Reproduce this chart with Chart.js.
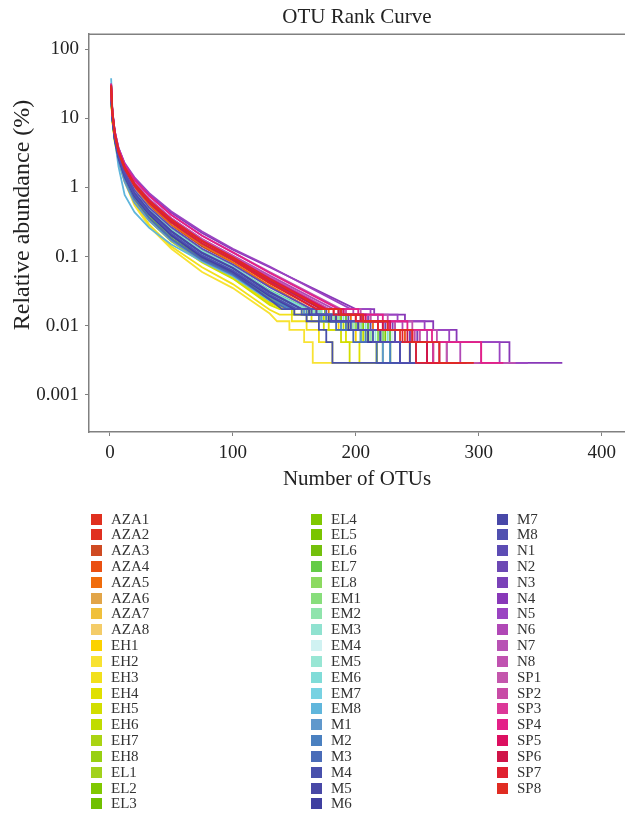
<!DOCTYPE html>
<html>
<head>
<meta charset="utf-8">
<script src="https://cdn.jsdelivr.net/npm/chart.js@4.4.1/dist/chart.umd.min.js"></script>
<style>
    body { margin: 0; background: #fff; font-family: "Liberation Serif", "DejaVu Serif", serif; }
    #wrap { position: relative; width: 625px; height: 500px; }
    #legend { position: absolute; left: 0; top: 0; width: 625px; height: 814px; pointer-events: none; }
    .item { position: absolute; font-size: 15px; color: #333; line-height: 15px; white-space: nowrap; }
    .item span { position: absolute; left: 0; top: 2px; width: 11px; height: 11px; }
    .item b { font-weight: normal; position: absolute; left: 20px; top: 0; }
</style>
</head>
<body>
<div id="wrap"><canvas id="otuChart"></canvas></div>
<div id="legend"></div>
<script>
// rangos donde se leyeron los valores (% de abundancia relativa)
const ranks = [1, 2, 4, 7, 12, 20, 32, 50, 75, 100, 130];
// niveles de la cola (6, 5, 4, 3, 2 y 1 lectura)
const tailLevels = [0.0174, 0.0145, 0.0116, 0.0087, 0.0058, 0.0029];

const yTicks = [0.001, 0.01, 0.1, 1, 10, 100];
const yTickLabels = ['0.001', '0.01', '0.1', '1', '10', '100'];
const xTicks = [0, 100, 200, 300, 400];

const sampleNames = [
    'AZA1', 'AZA2', 'AZA3', 'AZA4', 'AZA5', 'AZA6', 'AZA7', 'AZA8',
    'EH1', 'EH2', 'EH3', 'EH4', 'EH5', 'EH6', 'EH7', 'EH8',
    'EL1', 'EL2', 'EL3', 'EL4', 'EL5', 'EL6', 'EL7', 'EL8',
    'EM1', 'EM2', 'EM3', 'EM4', 'EM5', 'EM6', 'EM7', 'EM8',
    'M1', 'M2', 'M3', 'M4', 'M5', 'M6', 'M7', 'M8',
    'N1', 'N2', 'N3', 'N4', 'N5', 'N6', 'N7', 'N8',
    'SP1', 'SP2', 'SP3', 'SP4', 'SP5', 'SP6', 'SP7', 'SP8'
];

const sampleColors = [
    '#e0301f', '#e03020', '#cf4a22', '#ea5012', '#f06c0c', '#e2a548', '#f0c03c', '#f4cc68',
    '#fcd200', '#f8e232', '#f2e01c', '#e0e000', '#d2de00', '#c0dc00', '#aad412', '#98d012',
    '#a2d21c', '#80c800', '#70c000', '#80c800', '#7ac400', '#74c00c', '#64cc48', '#8cda60',
    '#88de7c', '#90e4ac', '#90e2d0', '#d0f2f2', '#98e6d4', '#80dcd8', '#78d2e2', '#60b6dc',
    '#6098cc', '#4a80c0', '#4a6cb8', '#4850ac', '#4848a6', '#4040a0', '#4848a8', '#5050b0',
    '#5c4cb4', '#6c48b4', '#7a42b8', '#8838b8', '#9a44c2', '#b048b6', '#b852b4', '#c052b0',
    '#c456ac', '#c84ca6', '#dc3898', '#e42088', '#dc0f60', '#d01448', '#e02030', '#e02c22'
];

const abundanceAZA = [
    [27, 12, 6.2, 3.5, 2.0, 1.15, 0.66, 0.35, 0.17, 0.098, 0.047],
    [29, 11.5, 5.8, 3.3, 1.85, 1.02, 0.6, 0.32, 0.15, 0.088, 0.041],
    [24, 10.5, 5.4, 3.0, 1.7, 0.95, 0.55, 0.28, 0.14, 0.08, 0.036],
    [31, 12.5, 6.1, 3.4, 2.0, 1.12, 0.62, 0.34, 0.17, 0.096, 0.046],
    [25, 11, 5.6, 3.1, 1.75, 0.98, 0.57, 0.29, 0.148, 0.083, 0.038],
    [23, 10, 5.1, 2.8, 1.58, 0.84, 0.45, 0.235, 0.11, 0.064, 0.028],
    [26, 11, 5.3, 2.9, 1.62, 0.9, 0.5, 0.26, 0.128, 0.074, 0.033],
    [22, 9.8, 5.0, 2.75, 1.5, 0.78, 0.43, 0.215, 0.105, 0.062, 0.027]
];
const abundanceEH = [
    [21, 9.6, 4.8, 2.6, 1.35, 0.66, 0.35, 0.17, 0.085, 0.049, 0.021],
    [20, 9.0, 4.5, 2.45, 1.2, 0.55, 0.27, 0.13, 0.06, 0.035, 0.015],
    [22, 9.2, 4.6, 2.4, 1.25, 0.6, 0.29, 0.14, 0.07, 0.04, 0.017],
    [23, 9.8, 4.9, 2.6, 1.4, 0.68, 0.37, 0.18, 0.09, 0.052, 0.022],
    [21, 9.4, 4.7, 2.55, 1.32, 0.63, 0.33, 0.165, 0.082, 0.048, 0.02],
    [24, 10.2, 5.0, 2.7, 1.45, 0.75, 0.4, 0.2, 0.098, 0.058, 0.025],
    [22, 9.9, 5.0, 2.72, 1.5, 0.76, 0.41, 0.205, 0.1, 0.06, 0.026],
    [25, 10.4, 5.2, 2.8, 1.52, 0.78, 0.42, 0.21, 0.104, 0.062, 0.027]
];
const abundanceEL = [
    [23, 10, 5.1, 2.8, 1.55, 0.8, 0.44, 0.225, 0.108, 0.065, 0.028],
    [24, 10.5, 5.3, 2.9, 1.6, 0.86, 0.47, 0.24, 0.118, 0.07, 0.031],
    [26, 10.2, 5.0, 2.7, 1.48, 0.77, 0.42, 0.215, 0.104, 0.063, 0.028],
    [24, 10.6, 5.3, 2.95, 1.62, 0.86, 0.48, 0.245, 0.12, 0.072, 0.032],
    [22, 9.8, 5.0, 2.75, 1.5, 0.79, 0.43, 0.22, 0.106, 0.064, 0.028],
    [23, 9.9, 4.9, 2.65, 1.42, 0.7, 0.37, 0.185, 0.092, 0.055, 0.024],
    [25, 10.8, 5.4, 3.0, 1.65, 0.88, 0.49, 0.25, 0.122, 0.073, 0.033],
    [24, 10.3, 5.1, 2.8, 1.52, 0.8, 0.44, 0.225, 0.11, 0.066, 0.029]
];
const abundanceEM = [
    [25, 10.6, 5.3, 2.9, 1.6, 0.86, 0.47, 0.24, 0.118, 0.071, 0.031],
    [23, 10, 5.0, 2.75, 1.5, 0.78, 0.43, 0.22, 0.108, 0.065, 0.028],
    [26, 10.8, 5.3, 2.9, 1.6, 0.85, 0.46, 0.235, 0.115, 0.07, 0.031],
    [27, 11.2, 5.5, 3.0, 1.7, 0.92, 0.51, 0.265, 0.13, 0.077, 0.035],
    [24, 10.2, 5.1, 2.8, 1.52, 0.8, 0.44, 0.22, 0.108, 0.065, 0.028],
    [25, 10.6, 5.3, 2.92, 1.62, 0.87, 0.48, 0.245, 0.12, 0.072, 0.032],
    [28, 10.4, 5.0, 2.7, 1.45, 0.76, 0.42, 0.215, 0.104, 0.063, 0.028],
    [38, 14, 5.0, 2.0, 0.78, 0.44, 0.26, 0.15, 0.085, 0.052, 0.023]
];
const abundanceM = [
    [32, 12, 5.0, 2.4, 1.2, 0.6, 0.33, 0.17, 0.088, 0.054, 0.024],
    [24, 10.2, 5.0, 2.7, 1.45, 0.74, 0.4, 0.2, 0.098, 0.06, 0.026],
    [23, 9.8, 4.8, 2.6, 1.38, 0.68, 0.36, 0.18, 0.09, 0.055, 0.024],
    [25, 10.4, 5.1, 2.75, 1.48, 0.76, 0.41, 0.2, 0.096, 0.058, 0.024],
    [24, 10.5, 5.2, 2.85, 1.55, 0.82, 0.45, 0.23, 0.112, 0.068, 0.03],
    [26, 10.3, 5.0, 2.72, 1.46, 0.75, 0.41, 0.205, 0.1, 0.061, 0.027],
    [23, 10.4, 5.2, 2.85, 1.56, 0.83, 0.46, 0.235, 0.114, 0.069, 0.031],
    [25, 10.2, 5.1, 2.78, 1.5, 0.78, 0.43, 0.215, 0.104, 0.063, 0.028]
];
const abundanceN = [
    [26, 11, 5.5, 3.0, 1.68, 0.92, 0.51, 0.265, 0.13, 0.077, 0.036],
    [27, 11.6, 5.8, 3.2, 1.85, 1.05, 0.6, 0.31, 0.155, 0.09, 0.044],
    [29, 12, 6.0, 3.35, 1.95, 1.12, 0.65, 0.34, 0.17, 0.098, 0.049],
    [30, 12.8, 6.4, 3.7, 2.2, 1.35, 0.8, 0.43, 0.22, 0.126, 0.07],
    [31, 13, 6.5, 3.75, 2.25, 1.4, 0.83, 0.45, 0.23, 0.13, 0.072],
    [28, 12.2, 6.1, 3.45, 2.0, 1.18, 0.68, 0.36, 0.18, 0.104, 0.053],
    [27, 12, 6.0, 3.4, 1.98, 1.15, 0.66, 0.35, 0.175, 0.1, 0.05],
    [29, 12.6, 6.3, 3.6, 2.1, 1.28, 0.75, 0.4, 0.2, 0.115, 0.06]
];
const abundanceSP = [
    [28, 12, 6.0, 3.4, 2.0, 1.16, 0.67, 0.355, 0.178, 0.102, 0.05],
    [30, 12.4, 6.1, 3.45, 2.0, 1.15, 0.66, 0.35, 0.172, 0.098, 0.048],
    [27, 11.8, 5.9, 3.35, 1.95, 1.12, 0.64, 0.34, 0.168, 0.097, 0.047],
    [32, 13, 6.4, 3.65, 2.15, 1.3, 0.76, 0.4, 0.2, 0.115, 0.058],
    [30, 12.2, 6.0, 3.4, 1.98, 1.14, 0.65, 0.345, 0.17, 0.098, 0.048],
    [28, 12, 5.9, 3.3, 1.92, 1.1, 0.63, 0.33, 0.165, 0.095, 0.046],
    [29, 11.8, 5.8, 3.2, 1.85, 1.05, 0.6, 0.31, 0.155, 0.09, 0.043],
    [30, 12.3, 6.0, 3.4, 1.96, 1.12, 0.64, 0.34, 0.168, 0.097, 0.047]
];

// rango donde empieza cada nivel de la cola (null = no aparece) y último OTU
const tailAZA = [
    [174, 188, 206, 226, 244, 263, 286], [168, 182, 200, 218, 236, 249, 276],
    [162, 175, 192, 210, 228, 244, 264], [172, 186, 204, 222, 240, 258, 282],
    [164, 178, 196, 214, 232, 244, 270], [152, 164, 180, 198, 214, 228, 248],
    [158, 170, 186, 204, 222, 236, 258], [150, 162, 178, 194, 210, 222, 242]
];
const tailEH = [
    [146, 156, 170, 186, 200, 217, 232], [null, null, 136, 146, 158, 165, 182],
    [null, 138, 148, 160, 170, 181, 204], [140, 150, 164, 178, 192, 203, 226],
    [138, 148, 160, 174, 188, 195, 238], [148, 160, 174, 190, 206, 222, 244],
    [150, 162, 176, 192, 208, 228, 250], [152, 164, 178, 194, 210, 236, 252]
];
const tailEL = [
    [154, 166, 182, 198, 214, 236, 256], [158, 170, 186, 204, 222, 244, 262],
    [154, 166, 182, 200, 218, 249, 266], [160, 172, 188, 206, 224, 244, 258],
    [152, 164, 180, 196, 212, 228, 252], [146, 158, 172, 188, 204, 217, 242],
    [162, 175, 192, 210, 228, 249, 268], [156, 168, 184, 200, 218, 236, 256]
];
const tailEM = [
    [158, 170, 186, 204, 222, 244, 262], [152, 164, 180, 196, 212, 228, 248],
    [158, 170, 186, 204, 220, 236, 254], [164, 176, 194, 212, 230, 249, 270],
    [154, 166, 182, 198, 216, 236, 254], [160, 172, 190, 208, 226, 258, 274],
    [152, 164, 180, 196, 214, 228, 250], [146, 158, 172, 188, 204, 222, 244]
];
const tailM = [
    [146, 158, 172, 188, 204, 222, 240], [148, 160, 176, 192, 208, 228, 248],
    [144, 156, 170, 184, 198, 217, 236], [140, 150, 160, 170, 176, 181, 300],
    [156, 168, 184, 202, 220, 236, 260], [150, 162, 178, 194, 210, 236, 286],
    [156, 168, 184, 202, 220, 244, 278], [152, 164, 180, 196, 214, 236, 266]
];
const tailN = [
    [164, 176, 194, 212, 232, 249, 278], [172, 186, 204, 224, 244, 263, 292],
    [176, 190, 210, 230, 250, 274, 304], [200, 215, 240, 263, 282, 325, 368],
    [196, 212, 234, 256, 276, 317, 340], [182, 198, 218, 238, 258, 285, 316],
    [178, 192, 212, 232, 252, 268, 298], [188, 204, 226, 246, 266, 302, 330]
];
const tailSP = [
    [178, 192, 212, 232, 252, 274, 300], [176, 190, 208, 228, 248, 268, 294],
    [174, 188, 206, 226, 246, 263, 288], [186, 202, 222, 242, 262, 302, 320],
    [176, 190, 208, 228, 246, 258, 290], [172, 186, 204, 222, 242, 258, 284],
    [168, 182, 200, 218, 238, 249, 280], [174, 188, 206, 226, 246, 268, 296]
];

const allValues = [...abundanceAZA, ...abundanceEH, ...abundanceEL, ...abundanceEM, ...abundanceM, ...abundanceN, ...abundanceSP];
const allTails = [...tailAZA, ...tailEH, ...tailEL, ...tailEM, ...tailM, ...tailN, ...tailSP];

// arma la curva: parte inicial + escalones de la cola
const buildCurve = (values, tail) => {
    const pts = ranks.map((r, i) => ({ x: r, y: values[i] }));
    let prev = null;
    tailLevels.forEach((level, k) => {
        if (tail[k] === null) return;
        if (prev !== null) pts.push({ x: tail[k], y: tailLevels[prev] });
        pts.push({ x: tail[k], y: level });
        prev = k;
    });
    pts.push({ x: tail[tail.length - 1], y: tailLevels[prev] });
    return pts;
};

const datasets = sampleNames.map((name, i) => ({
    label: name,
    data: buildCurve(allValues[i], allTails[i]),
    borderColor: sampleColors[i],
    borderWidth: 1.8,
    pointRadius: 0,
    fill: false,
    tension: 0,
    order: -i
}));

const serif = '"Liberation Serif", "DejaVu Serif", serif';

// borde superior y título del eje y
const extras = {
    id: 'extras',
    afterDraw(chart) {
        const { ctx, chartArea: a } = chart;
        ctx.save();
        ctx.strokeStyle = '#808080';
        ctx.lineWidth = 1.5;
        ctx.beginPath();
        ctx.moveTo(a.left, a.top);
        ctx.lineTo(a.right, a.top);
        ctx.stroke();
        ctx.translate(23, 215);
        ctx.rotate(-Math.PI / 2);
        ctx.fillStyle = '#222';
        ctx.font = `24px ${serif}`;
        ctx.textAlign = 'center';
        ctx.textBaseline = 'middle';
        ctx.fillText('Relative abundance (%)', 0, 0);
        ctx.restore();
    }
};

new Chart(document.getElementById('otuChart'), {
    type: 'line',
    data: { datasets },
    plugins: [extras],
    options: {
        responsive: true,
        maintainAspectRatio: false,
        animation: false,
        layout: { padding: 0 },
        plugins: {
            legend: { display: false },
            tooltip: { enabled: false },
            title: {
                display: true,
                text: 'OTU Rank Curve',
                fullSize: false,
                color: '#222',
                font: { family: serif, size: 21, weight: 'normal' },
                padding: { top: 5, bottom: 4 }
            }
        },
        scales: {
            x: {
                type: 'linear',
                min: -17,
                max: 419,
                afterBuildTicks: s => { s.ticks = xTicks.map(v => ({ value: v })); },
                afterFit: s => { s.height = 68; },
                border: { color: '#808080', width: 1.5 },
                grid: { drawOnChartArea: false, drawTicks: true, tickLength: 4, color: '#808080' },
                ticks: { color: '#222', font: { family: serif, size: 19 }, padding: 6, maxRotation: 0 },
                title: {
                    display: true,
                    text: 'Number of OTUs',
                    color: '#222',
                    font: { family: serif, size: 21 },
                    padding: { top: 0, bottom: 8 }
                }
            },
            y: {
                type: 'logarithmic',
                min: 0.00029,
                max: 165,
                afterBuildTicks: s => { s.ticks = yTicks.map(v => ({ value: v })); },
                afterFit: s => { s.width = 89; },
                border: { color: '#808080', width: 1.5 },
                grid: { drawOnChartArea: false, drawTicks: true, tickLength: 4, color: '#808080' },
                ticks: {
                    color: '#222',
                    font: { family: serif, size: 19 },
                    padding: 6,
                    callback: (v, i) => yTickLabels[i]
                }
            }
        }
    }
});

// leyenda en tres columnas
const legendCols = [91, 311, 497];
const legend = document.getElementById('legend');
sampleNames.forEach((name, i) => {
    const col = Math.floor(i / 19);
    const row = i % 19;
    const top = 519 + row * 15.83 - 7.5;
    legend.insertAdjacentHTML('beforeend',
        `<div class="item" style="left:${legendCols[col]}px;top:${top}px"><span style="background:${sampleColors[i]}"></span><b>${name}</b></div>`);
});
</script>
</body>
</html>
